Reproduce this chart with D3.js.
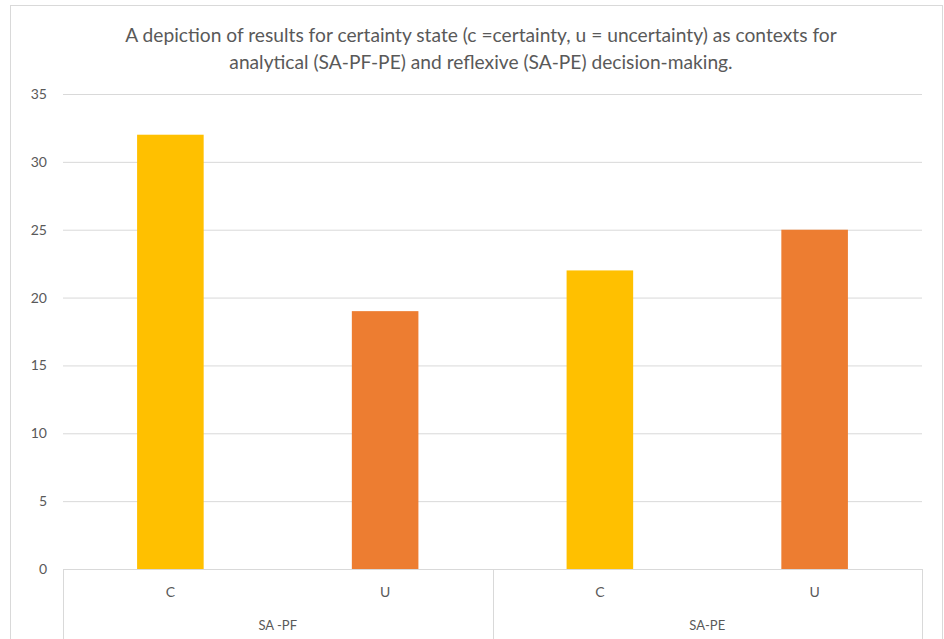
<!DOCTYPE html>
<html>
<head>
<meta charset="utf-8">
<script src="https://cdn.jsdelivr.net/npm/d3@7"></script>
<style>
  body { margin: 0; background: #fff; }
  svg { display: block; font-family: Lato, "Open Sans", sans-serif; }
</style>
</head>
<body>
<svg id="chart" width="944" height="639"></svg>
<script>
// Certainty state per decision path
const groups = ["SA -PF", "SA-PE"];
const states = ["C", "U"];
const values = [32, 19, 22, 25];
const colors = ["#FFC000", "#ED7D31"];
const yTicks = [0, 5, 10, 15, 20, 25, 30, 35];
const titleLines = [
  "A depiction of results for certainty state (c =certainty, u = uncertainty) as contexts for",
  "analytical (SA-PF-PE) and reflexive (SA-PE) decision-making."
];

const svg = d3.select("#chart");
const W = 944, H = 639;
const m = { left: 63, right: 22, top: 94, bottom: 70 };

// chart frame
svg.append("rect")
  .attr("x", 10.5).attr("y", 5.5)
  .attr("width", 932).attr("height", 660)
  .attr("fill", "#fff").attr("stroke", "#D9D9D9");

// one bar slot per (group, state)
const slots = [];
groups.forEach((g, gi) => states.forEach((s, si) => {
  slots.push({ key: g + "|" + s, group: g, state: s, si, value: values[gi * states.length + si] });
}));

const x = d3.scaleBand()
  .domain(slots.map(d => d.key))
  .range([m.left, W - m.right])
  .paddingInner(0.69)
  .paddingOuter(0.345);

const y = d3.scaleLinear().domain([0, 35]).range([H - m.bottom, m.top]);

// gridlines and value labels
const yAxis = d3.axisLeft(y).tickValues(yTicks).tickSize(-(W - m.right - m.left)).tickPadding(16);
const gy = svg.append("g").attr("transform", `translate(${m.left},0)`).call(yAxis);
gy.select(".domain").remove();
gy.selectAll(".tick line").attr("stroke", "#D9D9D9").attr("stroke-width", 1);
gy.selectAll(".tick text").attr("fill", "#595959").attr("font-size", 14).attr("font-family", "Lato, sans-serif");

// bars
svg.append("g").selectAll("rect").data(slots).join("rect")
  .attr("x", d => x(d.key))
  .attr("width", x.bandwidth())
  .attr("y", d => y(d.value))
  .attr("height", d => y(0) - y(d.value))
  .attr("fill", d => colors[d.si]);

// two-level category axis
const base = y(0);
const axisG = svg.append("g").attr("stroke", "#D9D9D9").attr("fill", "none");
const xl = m.left, xr = W - m.right;
const groupW = (xr - xl) / groups.length;
axisG.append("line").attr("x1", xl).attr("x2", xr).attr("y1", base + 0.5).attr("y2", base + 0.5);
d3.range(groups.length + 1).forEach(i => {
  const gx = Math.round(xl + i * groupW) + 0.5;
  axisG.append("line").attr("x1", gx).attr("x2", gx).attr("y1", base).attr("y2", H);
});

svg.append("g").selectAll("text").data(slots).join("text")
  .attr("x", d => x(d.key) + x.bandwidth() / 2)
  .attr("y", base + 28)
  .attr("text-anchor", "middle")
  .attr("fill", "#595959").attr("font-size", 14)
  .text(d => d.state);

svg.append("g").selectAll("text").data(groups).join("text")
  .attr("x", (d, i) => xl + (i + 0.5) * groupW)
  .attr("y", base + 61)
  .attr("text-anchor", "middle")
  .attr("fill", "#595959").attr("font-size", 13)
  .text(d => d);

// title
svg.append("g").selectAll("text").data(titleLines).join("text")
  .attr("x", 481)
  .attr("y", (d, i) => 42 + i * 27)
  .attr("text-anchor", "middle")
  .attr("fill", "#595959").attr("font-size", 19.2)
  .text(d => d);
</script>
</body>
</html>
